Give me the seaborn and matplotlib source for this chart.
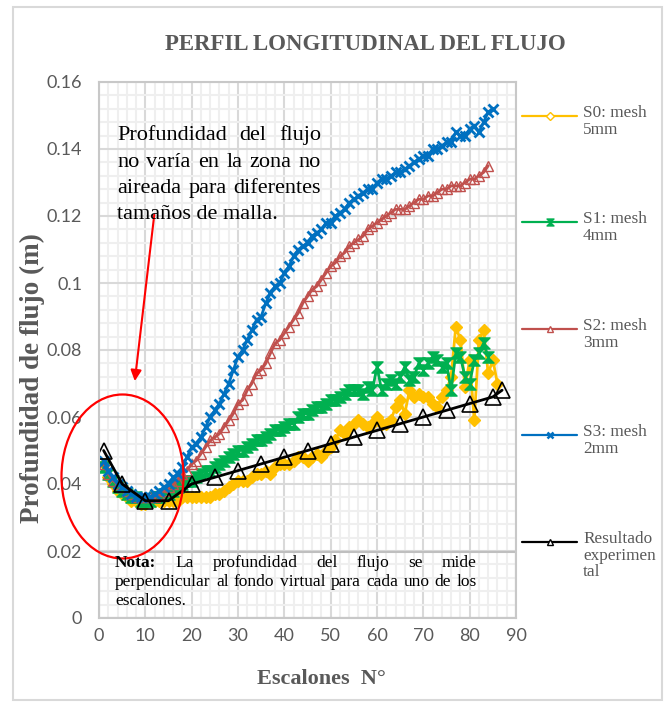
import numpy as np
import pandas as pd
import matplotlib
matplotlib.use("Agg")
import matplotlib.pyplot as plt
import seaborn as sns
from matplotlib.patches import Ellipse, Rectangle
from matplotlib.lines import Line2D
from matplotlib.path import Path
from matplotlib.transforms import IdentityTransform
from matplotlib.ticker import MultipleLocator

# profundidad de flujo (m) por escalon
s0_depth = [0.046, 0.042, 0.040, 0.038, 0.037, 0.036, 0.035, 0.035, 0.034, 0.034,
            0.035, 0.035, 0.035, 0.035, 0.035, 0.035, 0.035, 0.036, 0.036, 0.036,
            0.036, 0.036, 0.036, 0.036, 0.037, 0.037, 0.038, 0.039, 0.040, 0.041,
            0.041, 0.041, 0.042, 0.043, 0.043, 0.044, 0.043, 0.045, 0.046, 0.046,
            0.046, 0.047, 0.048, 0.048, 0.047, 0.048, 0.049, 0.048, 0.050, 0.051,
            0.053, 0.056, 0.055, 0.057, 0.058, 0.059, 0.058, 0.057, 0.058, 0.060,
            0.058, 0.058, 0.059, 0.063, 0.065, 0.061, 0.068, 0.066, 0.067, 0.066,
            0.066, 0.064, 0.063, 0.066, 0.068, 0.072, 0.087, 0.083, 0.069, 0.077,
            0.059, 0.083, 0.086, 0.073, 0.077, 0.070]
s1_depth = [0.045, 0.043, 0.041, 0.039, 0.038, 0.037, 0.036, 0.036, 0.035, 0.035,
            0.035, 0.036, 0.036, 0.037, 0.037, 0.038, 0.039, 0.040, 0.041, 0.041,
            0.042, 0.043, 0.044, 0.044, 0.045, 0.046, 0.047, 0.048, 0.049, 0.050,
            0.050, 0.051, 0.052, 0.053, 0.053, 0.054, 0.055, 0.056, 0.056, 0.057,
            0.058, 0.058, 0.060, 0.061, 0.061, 0.062, 0.063, 0.063, 0.064, 0.065,
            0.065, 0.066, 0.067, 0.068, 0.068, 0.068, 0.067, 0.069, 0.068, 0.075,
            0.068, 0.070, 0.071, 0.070, 0.072, 0.075, 0.071, 0.072, 0.076, 0.074,
            0.076, 0.078, 0.077, 0.075, 0.076, 0.068, 0.079, 0.078, 0.072, 0.070,
            0.077, 0.079, 0.082, 0.078]
s2_depth = [0.046, 0.043, 0.041, 0.040, 0.039, 0.038, 0.037, 0.036, 0.036, 0.036,
            0.036, 0.036, 0.037, 0.038, 0.039, 0.040, 0.041, 0.043, 0.044, 0.046,
            0.047, 0.049, 0.051, 0.053, 0.054, 0.055, 0.057, 0.059, 0.061, 0.064,
            0.065, 0.068, 0.070, 0.073, 0.074, 0.076, 0.079, 0.082, 0.083, 0.085,
            0.087, 0.089, 0.091, 0.094, 0.096, 0.098, 0.099, 0.101, 0.103, 0.105,
            0.106, 0.108, 0.109, 0.111, 0.112, 0.113, 0.114, 0.116, 0.117, 0.118,
            0.119, 0.120, 0.121, 0.122, 0.122, 0.122, 0.123, 0.124, 0.125, 0.125,
            0.126, 0.126, 0.127, 0.128, 0.128, 0.129, 0.129, 0.129, 0.130, 0.131,
            0.131, 0.132, 0.133, 0.135]
s3_depth = [0.047, 0.044, 0.042, 0.040, 0.039, 0.038, 0.037, 0.036, 0.036, 0.036,
            0.036, 0.037, 0.038, 0.039, 0.040, 0.042, 0.043, 0.045, 0.048, 0.051,
            0.052, 0.054, 0.057, 0.060, 0.062, 0.064, 0.067, 0.070, 0.074, 0.078,
            0.080, 0.083, 0.086, 0.089, 0.090, 0.094, 0.097, 0.099, 0.100, 0.103,
            0.105, 0.108, 0.110, 0.111, 0.112, 0.114, 0.115, 0.116, 0.118, 0.118,
            0.120, 0.121, 0.122, 0.124, 0.125, 0.126, 0.127, 0.128, 0.128, 0.130,
            0.131, 0.131, 0.132, 0.133, 0.133, 0.134, 0.135, 0.136, 0.137, 0.138,
            0.138, 0.140, 0.140, 0.141, 0.142, 0.142, 0.145, 0.144, 0.144, 0.146,
            0.147, 0.145, 0.148, 0.151, 0.152]
exp_steps = [1, 5, 10, 15, 20, 25, 30, 35, 40, 45, 50, 55, 60, 65, 70, 75, 80, 85, 87]
exp_depth = [0.050, 0.040, 0.035, 0.035, 0.040, 0.042, 0.044, 0.046, 0.048, 0.050,
             0.052, 0.054, 0.056, 0.058, 0.060, 0.062, 0.064, 0.066, 0.068]

series_names = ["S0: mesh\n5mm", "S1: mesh\n4mm", "S2: mesh\n3mm", "S3: mesh\n2mm",
                "Resultado\nexperimen\ntal"]
series_colors = ["#FFC000", "#00B050", "#C0504D", "#0070C0", "#000000"]

frames = []
for name, vals in zip(series_names[:4], [s0_depth, s1_depth, s2_depth, s3_depth]):
    frames.append(pd.DataFrame({"escalon": np.arange(1, len(vals) + 1),
                                "profundidad": vals, "serie": name}))
frames.append(pd.DataFrame({"escalon": exp_steps, "profundidad": exp_depth,
                            "serie": series_names[4]}))
df = pd.concat(frames, ignore_index=True)

sns.set_theme(style="white")
plt.rcParams["font.family"] = ["Liberation Serif", "DejaVu Serif"]

W, H = 670, 704
fig = plt.figure(figsize=(W / 100, H / 100), dpi=100)
ax = fig.add_axes([99 / W, 1 - 618 / H, (516 - 99) / W, (618 - 82) / H])

bowtie = Path([(-1, 1), (1, 1), (-1, -1), (1, -1), (-1, 1)],
              [Path.MOVETO, Path.LINETO, Path.LINETO, Path.LINETO, Path.CLOSEPOLY])
styles = [
    dict(marker="D", markersize=6, mfc="#FFC000", mec="#FFC000", mew=1),
    dict(marker=bowtie, markersize=8, mfc="#00B050", mec="#00B050", mew=1),
    dict(marker="^", markersize=6.5, mfc="none", mec="#C0504D", mew=1),
    dict(marker="x", markersize=6.5, mfc="#0070C0", mec="#0070C0", mew=2),
    dict(marker="^", markersize=11, mfc="none", mec="#000000", mew=1.2),
]
for name, col, st in zip(series_names, series_colors, styles):
    sub = df[df["serie"] == name]
    sns.lineplot(data=sub, x="escalon", y="profundidad", color=col, lw=2.0,
                 ax=ax, legend=False, **st)

ax.set_xlim(0, 90)
ax.set_ylim(0, 0.16)
ax.xaxis.set_major_locator(MultipleLocator(10))
ax.xaxis.set_minor_locator(MultipleLocator(2))
ax.yaxis.set_major_locator(MultipleLocator(0.02))
ax.yaxis.set_minor_locator(MultipleLocator(0.004))
ax.set_yticks(np.arange(0, 0.161, 0.02))
ax.set_yticklabels(["0", "0.02", "0.04", "0.06", "0.08", "0.1", "0.12", "0.14", "0.16"])
ax.grid(which="major", color="#d9d9d9", lw=1.5)
ax.grid(which="minor", color="#efefef", lw=1.5)
ax.set_axisbelow(True)
ax.tick_params(which="both", length=0)
ax.tick_params(axis="y", pad=12, labelsize=13, labelcolor="#595959")
ax.tick_params(axis="x", pad=7, labelsize=13, labelcolor="#595959")
for lab in ax.get_xticklabels() + ax.get_yticklabels():
    lab.set_fontfamily("Lato")
for sp in ax.spines.values():
    sp.set_color("#c8c8c8")
    sp.set_linewidth(1.5)
ax.set_xlabel("")
ax.set_ylabel("")

px = IdentityTransform()

# circulo y flecha
fig.add_artist(Ellipse((122.5, H - 476.5), 122, 164, transform=px, fc="none",
                       ec="red", lw=1.6))
ax.annotate("", xy=(7.65, 0.0699), xytext=(12.0, 0.1212),
            arrowprops=dict(arrowstyle="-|>", color="red", lw=1.5, mutation_scale=16))

# recuadro de la nota
ax.add_patch(Rectangle((0, 0), 1, 66 / 536, transform=ax.transAxes, fc="none",
                       ec="#bfbfbf", lw=1.5))

# textos en pixeles
fig.text(365, H - 45, "PERFIL LONGITUDINAL DEL FLUJO", transform=px, ha="center",
         va="center", fontsize=16.5, fontweight="bold", color="#595959")
fig.text(321, H - 679, "Escalones  N°", transform=px, ha="center", va="center",
         fontsize=16, fontweight="bold", color="#595959")
fig.text(32, H - 378, "Profundidad de flujo (m)", transform=px, ha="center",
         va="center", rotation=90, fontsize=19.5, fontweight="bold", color="#595959")

border = Rectangle((13 / W, 4 / H), (662 - 13) / W, (700 - 7) / H,
                   transform=fig.transFigure, fc="none", ec="#d9d9d9", lw=1.5)
fig.add_artist(border)

rend = fig.canvas.get_renderer()


def justified(lines, x0, x1, baselines, size):
    for i, (words, yb) in enumerate(zip(lines, baselines)):
        if i == len(lines) - 1:
            fig.text(x0, H - yb, " ".join(w for w, _ in words), transform=px,
                     va="baseline", fontsize=size, color="black")
            continue
        txts = [fig.text(0, H - yb, w, transform=px, va="baseline", fontsize=size,
                         fontweight=wt, color="black") for w, wt in words]
        widths = [t.get_window_extent(rend).width for t in txts]
        gap = (x1 - x0 - sum(widths)) / (len(txts) - 1)
        x = x0
        for t, wd in zip(txts, widths):
            t.set_x(x)
            x += wd + gap


def words(s, bold_first=False):
    out = [(w, "normal") for w in s.split()]
    if bold_first:
        out[0] = (out[0][0], "bold")
    return out


justified([words("Profundidad del flujo"), words("no varía en la zona no"),
           words("aireada para diferentes"), words("tamaños de malla.")],
          117, 321, [140, 167, 193, 219], 16)
justified([words("Nota: La profundidad del flujo se mide", True),
           words("perpendicular al fondo virtual para cada uno de los"),
           words("escalones.")],
          115, 477, [567, 586, 605], 12.5)

# leyenda
leg_y = [116, 222, 329, 435, 542]
leg_ms = [dict(marker="D", markersize=4, mfc="white", mec="#FFC000", mew=1),
          dict(marker=bowtie, markersize=5, mfc="#00B050", mec="#00B050", mew=1),
          dict(marker="^", markersize=5, mfc="white", mec="#C0504D", mew=1),
          dict(marker="x", markersize=5, mfc="#0070C0", mec="#0070C0", mew=1.8),
          dict(marker="^", markersize=5, mfc="white", mec="#000000", mew=1)]
for name, col, y, st in zip(series_names, series_colors, leg_y, leg_ms):
    fig.add_artist(Line2D([522, 549.5, 577], [H - y] * 3, transform=px, color=col,
                          lw=1.6, markevery=[1], **st))
    fig.text(583, H - y + 11, name, transform=px, va="top", fontsize=12.4,
             color="#595959", linespacing=1.05)

fig.savefig("out.png", dpi=100)
